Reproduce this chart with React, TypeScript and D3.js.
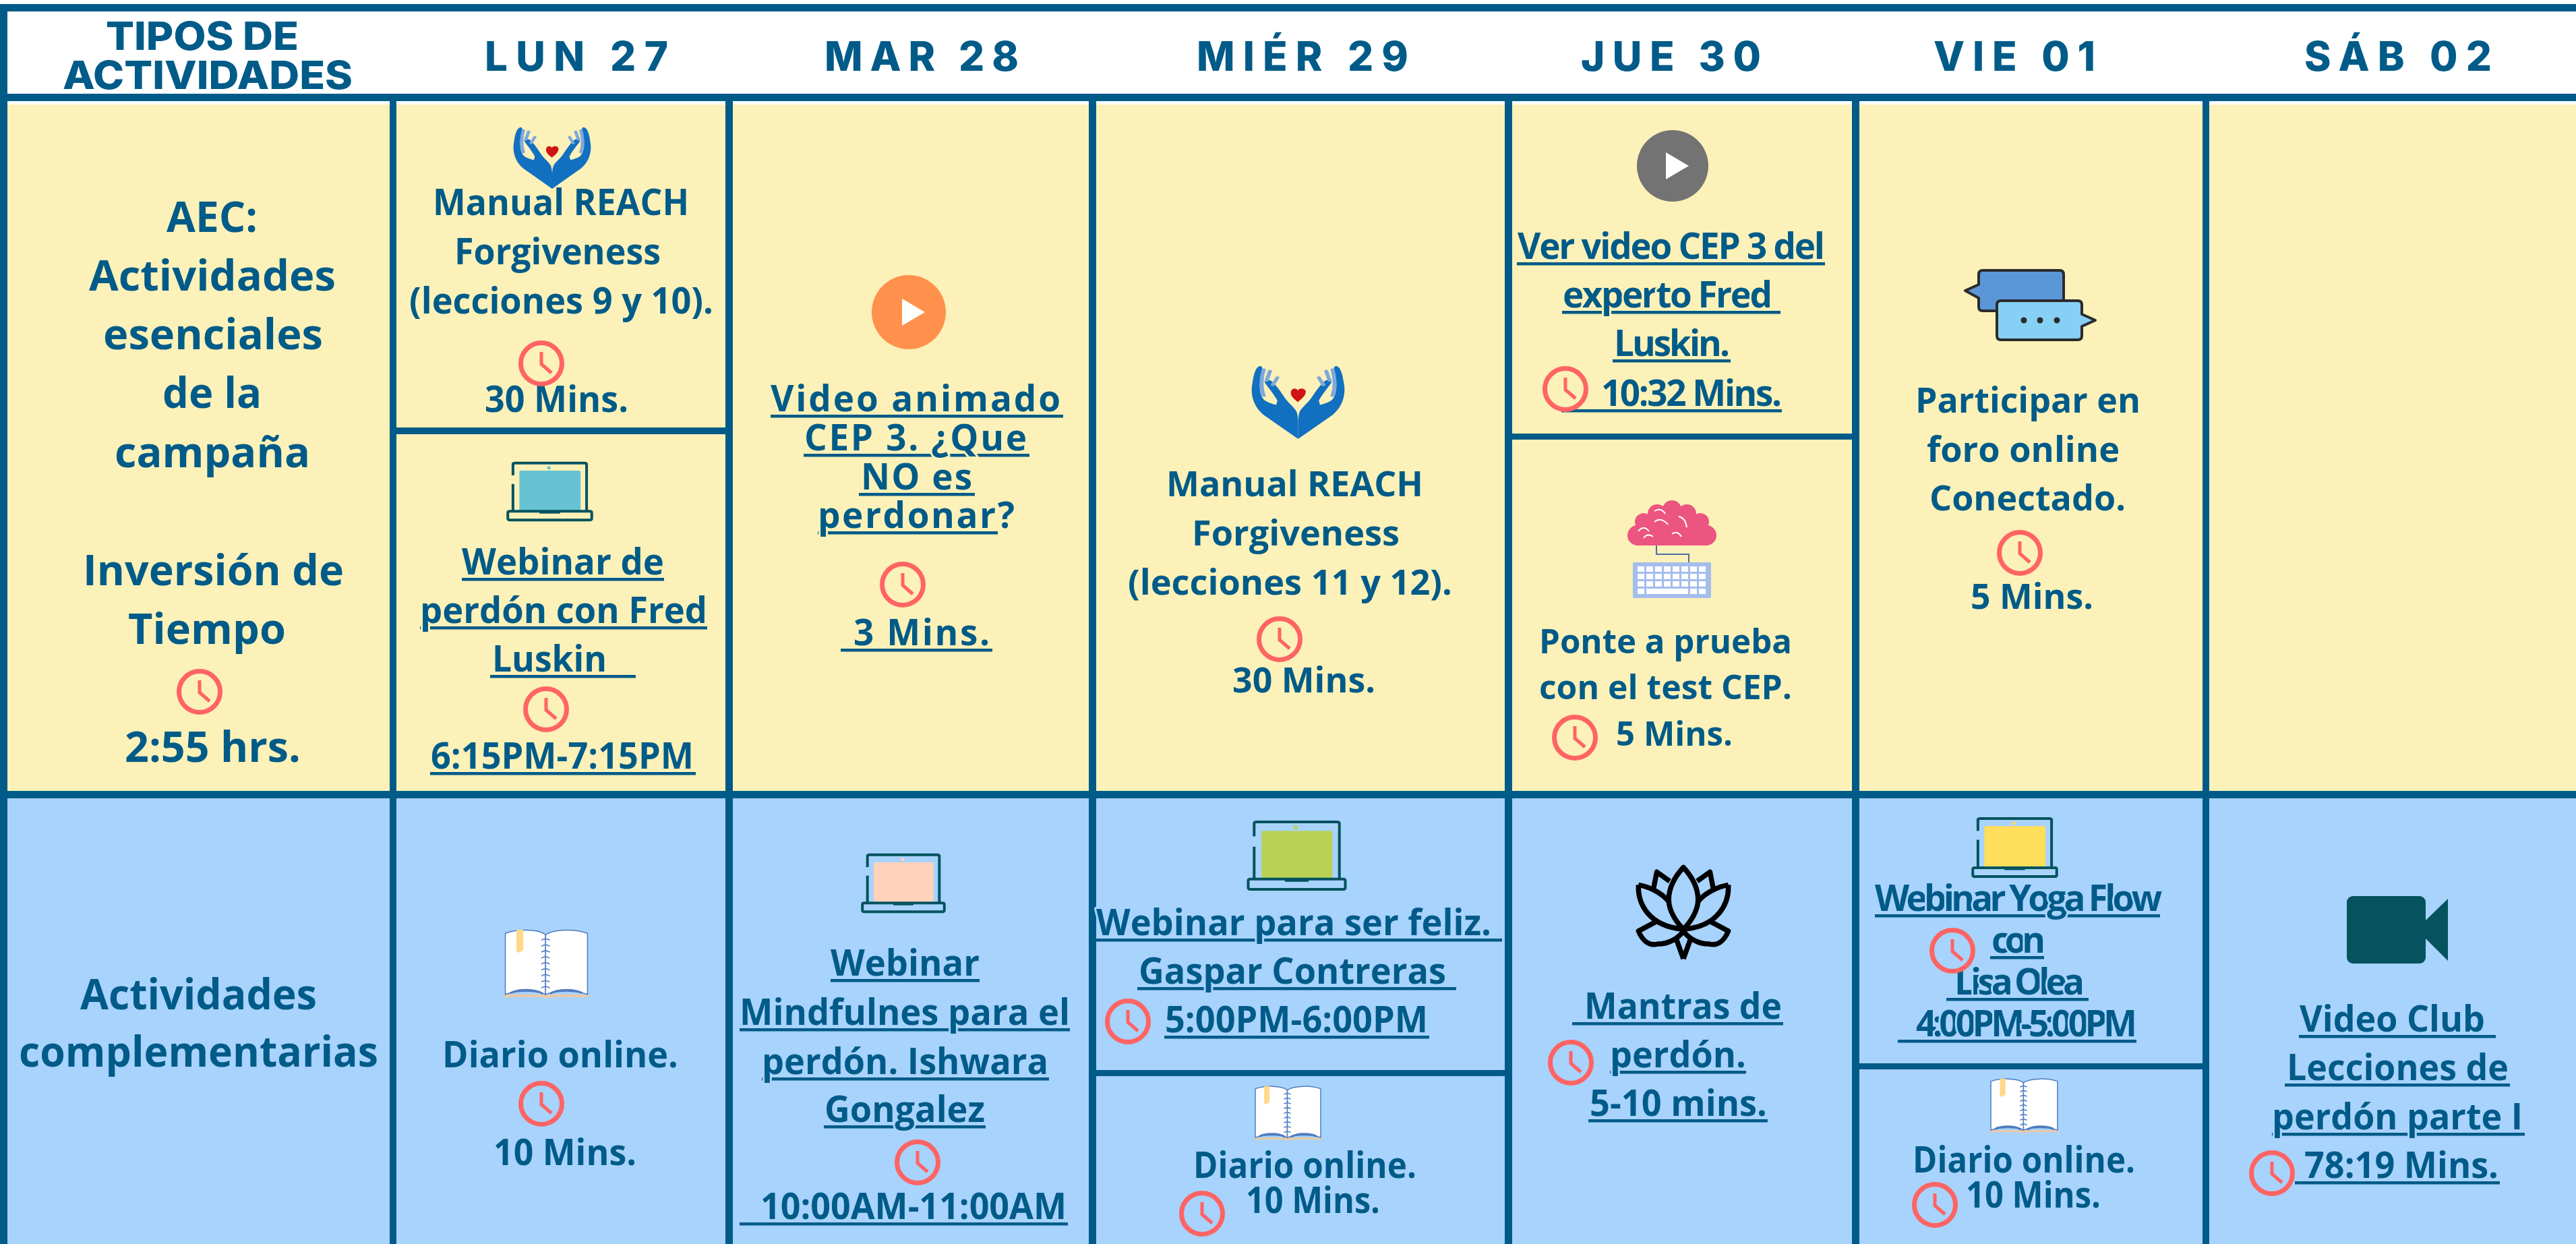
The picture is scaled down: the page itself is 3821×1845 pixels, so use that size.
import * as d3 from "d3"

// Text of the table
const dayLabels = ["LUN 27", "MAR 28", "MIÉR 29", "JUE 30", "VIE 01", "SÁB 02"]
const typeTitle = ["TIPOS DE", "ACTIVIDADES"]
const essentialLines = ["AEC:", "Actividades", "esenciales", "de la", "campaña", "Inversión de", "Tiempo", "2:55 hrs."]
const complementLines = ["Actividades", "complementarias"]
const lunManual = ["Manual REACH", "Forgiveness", "(lecciones 9 y 10).", "30 Mins."]
const lunWebinar = ["Webinar de", "perdón con Fred", "Luskin", "6:15PM-7:15PM"]
const marVideo = ["Video animado", "CEP 3. ¿Que", "NO es", "perdonar?", "3 Mins."]
const mierManual = ["Manual REACH", "Forgiveness", "(lecciones 11 y 12).", "30 Mins."]
const jueVideo = ["Ver video CEP 3 del", "experto Fred", "Luskin.", "10:32 Mins."]
const jueTest = ["Ponte a prueba", "con el test CEP.", "5 Mins."]
const vieForo = ["Participar en", "foro online", "Conectado.", "5 Mins."]
const lunDiario = ["Diario online.", "10 Mins."]
const marWebinar = ["Webinar", "Mindfulnes para el", "perdón. Ishwara", "Gongalez", "10:00AM-11:00AM"]
const mierWebinar = ["Webinar para ser feliz.", "Gaspar Contreras", "5:00PM-6:00PM"]
const mierDiario = ["Diario online.", "10 Mins."]
const jueMantras = ["Mantras de", "perdón.", "5-10 mins."]
const vieYoga = ["Webinar Yoga  Flow", "con", "Lisa Olea", "4:00PM-5:00PM"]
const vieDiario = ["Diario online.", "10 Mins."]
const sabVideo = ["Video Club", "Lecciones de", "perdón parte I", "78:19 Mins."]

const NAVY = "#005b88"
const YELLOW = "#fcf1b8"
const BLUE = "#a8d3fd"
const RED = "#ff6464"
const TEAL = "#04535f"
const FONT = "'Open Sans', sans-serif"
const HEAD_FONT = "Inter, 'Liberation Sans', sans-serif"

// grid
const colKeys = ["tipo", ...dayLabels]
const colStart = d3.scaleOrdinal<string, number>().domain(colKeys).range([0, 578, 1076, 1615, 2232, 2747, 3267])
const colEnd = d3.scaleOrdinal<string, number>().domain(colKeys).range([11, 588, 1087, 1626, 2243, 2758, 3277])
const rowKeys = ["top", "head", "aec", "comp"]
const rowStart = d3.scaleOrdinal<string, number>().domain(rowKeys).range([6, 139, 155, 1184])
const subLines: [string, number, number][] = [
  [dayLabels[0], 634, 644],
  [dayLabels[3], 643, 652],
  [dayLabels[2], 1587, 1596],
  [dayLabels[4], 1577, 1586],
]

// where each line goes: x start, x end, baseline, then underline start and end if it has one
type Box = [number, number, number, number?, number?]
const headBoxes: Box[] = [[719, 991, 105], [1223, 1511, 105], [1775, 2089, 105], [2345, 2612, 105], [2868, 3108, 105], [3418, 3696, 105]]
const titleBoxes: Box[] = [[157, 443, 74], [93, 523, 132]]
const essentialBoxes: Box[] = [[247, 382, 345], [132, 498, 432], [153, 479, 519], [241, 388, 606], [170, 460, 694], [123, 510, 869], [190, 424, 956], [185, 446, 1131]]
const complementBoxes: Box[] = [[119, 470, 1498], [28, 561, 1583]]
const lunManualBoxes: Box[] = [[642, 1022, 320], [674, 980, 393], [607, 1058, 466], [719, 932, 612]]
const lunWebinarBoxes: Box[] = [[685, 985, 853, 685, 985], [623, 1049, 925, 623, 1049], [730, 900, 997, 727, 943], [639, 1029, 1141, 638, 1032]]
const marVideoBoxes: Box[] = [[1143, 1573, 611, 1143, 1577], [1193, 1523, 669, 1192, 1527], [1277, 1442, 727, 1274, 1446], [1213, 1505, 784, 1213, 1480], [1266, 1468, 958, 1247, 1472]]
const mierManualBoxes: Box[] = [[1730, 2111, 737], [1768, 2076, 810], [1673, 2154, 883], [1828, 2040, 1028]]
const jueVideoBoxes: Box[] = [[2251, 2707, 385, 2250, 2707], [2318, 2629, 457, 2317, 2641], [2394, 2566, 529, 2392, 2567], [2375, 2643, 603, 2316, 2643]]
const jueTestBoxes: Box[] = [[2283, 2658, 970], [2283, 2658, 1038], [2397, 2570, 1107]]
const vieForoBoxes: Box[] = [[2841, 3175, 613], [2858, 3144, 686], [2862, 3153, 758], [2923, 3105, 904]]
const lunDiarioBoxes: Box[] = [[656, 1006, 1584], [732, 944, 1729]]
const marWebinarBoxes: Box[] = [[1232, 1453, 1448, 1232, 1453], [1097, 1587, 1521, 1097, 1587], [1130, 1555, 1594, 1130, 1556], [1223, 1461, 1665, 1222, 1462], [1128, 1582, 1809, 1097, 1584]]
const mierWebinarBoxes: Box[] = [[1626, 2212, 1388, 1626, 2228], [1689, 2145, 1460, 1687, 2160], [1728, 2118, 1532, 1727, 2120]]
const mierDiarioBoxes: Box[] = [[1770, 2101, 1748], [1848, 2047, 1800]]
const jueMantrasBoxes: Box[] = [[2350, 2643, 1512, 2332, 2645], [2388, 2590, 1584, 2388, 2590], [2358, 2621, 1656, 2356, 2622]]
const vieYogaBoxes: Box[] = [[2781, 3207, 1352, 2781, 3204], [2954, 3034, 1414, 2952, 3032], [2899, 3092, 1476, 2887, 3098], [2842, 3170, 1538, 2815, 3169]]
const vieDiarioBoxes: Box[] = [[2837, 3167, 1740], [2916, 3116, 1792]]
const sabVideoBoxes: Box[] = [[3411, 3686, 1531, 3410, 3702], [3392, 3721, 1603, 3389, 3723], [3370, 3742, 1676, 3370, 3745], [3418, 3706, 1748, 3404, 3708]]

const clockCenters = [
  [296, 1026], [803, 539], [810, 1052], [1339, 867], [1898, 948], [2322, 577], [2336, 1094], [2996, 820],
  [803, 1637], [1361, 1724], [1673, 1515], [1783, 1800], [2330, 1576], [2896, 1410], [2870, 1787], [3370, 1740],
]

function TextLines({ lines, boxes, size, bg, spacing }: { lines: string[]; boxes: Box[]; size: number; bg: string; spacing?: boolean }) {
  return (
    <g fontFamily={FONT} fontWeight={740} fontSize={size} fill={NAVY}>
      {lines.map((t, i) => {
        const [x0, x1, y, u0, u1] = boxes[i]
        const underlined = u0 !== undefined
        return (
          <g key={i}>
            {underlined && <rect x={u0} y={y + 4} width={u1! - u0!} height={4.5} />}
            {/* the background coloured outline opens the underline around descenders */}
            <text
              x={x0}
              y={y - 1}
              textLength={x1 - x0}
              lengthAdjust={spacing ? "spacing" : "spacingAndGlyphs"}
              stroke={underlined ? bg : "none"}
              strokeWidth={underlined ? 6 : 0}
              strokeLinejoin="round"
              paintOrder="stroke"
            >
              {t}
            </text>
          </g>
        )
      })}
    </g>
  )
}

function Clock({ cx, cy }: { cx: number; cy: number }) {
  return (
    <g transform={`translate(${cx},${cy})`} fill="none" stroke={RED}>
      <circle r={30.5} strokeWidth={7} />
      <path d="M0,-17V1L15,14" strokeWidth={5} />
    </g>
  )
}

function Icon({ box, vw, vh, children }: { box: number[]; vw: number; vh: number; children: any }) {
  const [x0, x1, y0, y1] = box
  return <g transform={`translate(${x0},${y0}) scale(${(x1 - x0) / vw},${(y1 - y0) / vh})`}>{children}</g>
}

function Hands({ box }: { box: number[] }) {
  const half = (
    <>
      <path d="M82.5,205L22,138C4,116 -2,80 2,50C4,25 8,4 15,2C21,1 20,12 18,24C13,52 14,84 24,98C30,104 38,108 44,110L46,98C40,80 30,62 24,48C22,42 28,38 34,42C42,50 52,74 58,88C64,104 76,116 80,130C82,140 82.5,150 82.5,160Z" fill="#1170c0" />
      <g stroke="#7fa9dc" strokeWidth={7} strokeLinecap="round" fill="none">
        <path d="M22,12C18,30 16,60 22,84" />
        <path d="M33,16L27,42" />
        <path d="M46,34L38,54" />
      </g>
    </>
  )
  return (
    <Icon box={box} vw={165} vh={205}>
      {half}
      <g transform="translate(165,0) scale(-1,1)">{half}</g>
      <path d="M82,102C74,92 68,84 70,72C72,62 80,62 82,70C84,62 94,62 96,72C96,84 90,92 82,102Z" fill="#cf1414" />
    </Icon>
  )
}

function Laptop({ box, fill }: { box: number[]; fill: string }) {
  const s = { vectorEffect: "non-scaling-stroke" as const }
  return (
    <Icon box={box} vw={100} vh={100}>
      <rect x={14.5} y={14} width={71.5} height={70} rx={2} fill={fill} />
      <path d="M7,22V3Q7,1 10,1H90Q93,1 93,3V84M7,37V84" fill="none" stroke={TEAL} strokeWidth={4} {...s} />
      <rect x={1} y={84} width={98} height={15} rx={2} fill="none" stroke={TEAL} strokeWidth={4} {...s} />
      <rect x={38} y={84} width={24} height={4} fill={TEAL} />
      <ellipse cx={49} cy={9} rx={2} ry={3} fill={fill} />
    </Icon>
  )
}

function Book({ box }: { box: number[] }) {
  const s = { vectorEffect: "non-scaling-stroke" as const }
  return (
    <Icon box={box} vw={100} vh={100}>
      <path d="M0,94H100V98H56L50,100L44,98H0Z" fill="#e6c9a8" />
      <path d="M2,6C14,0 40,-1 49,8V94C40,88 14,88 2,94Z" fill="#fff" stroke="#4f7cc0" strokeWidth={1.5} {...s} />
      <path d="M98,6C86,0 60,-1 49,8V94C60,88 86,88 98,94Z" fill="#fff" stroke="#4f7cc0" strokeWidth={1.5} {...s} />
      <path d="M15,1L23,1V30L18,34L15,32Z" fill="#ffd88a" />
      <path d="M8,92C18,86 36,86 46,93M54,93C64,86 82,86 92,92" fill="none" stroke="#4f7cc0" strokeWidth={3} {...s} />
      {d3.range(9).map((i) => (
        <path key={i} d={`M44,${16 + i * 8.6}Q49,${12 + i * 8.6} 54,${16 + i * 8.6}`} fill="none" stroke="#4f7cc0" strokeWidth={1.5} {...s} />
      ))}
    </Icon>
  )
}

function Lotus({ box }: { box: number[] }) {
  const half = (
    <>
      <path d="M1,20C12,22 26,28 34,38M1,20C0,40 12,65 50,68" />
      <path d="M35,16L21,6L17,26" />
      <path d="M20,60L1,70C6,82 14,86 22,84C34,84 44,78 50,70" />
      <path d="M42,78L50,100" />
    </>
  )
  return (
    <Icon box={box} vw={100} vh={100}>
      <g fill="none" stroke="#000" strokeWidth={5.5} strokeLinejoin="round">
        <path d="M50,1C38,14 34,26 34,36C34,48 42,60 50,68C58,60 66,48 66,36C66,26 62,14 50,1Z" />
        {half}
        <g transform="translate(100,0) scale(-1,1)">{half}</g>
      </g>
    </Icon>
  )
}

const brainLobes = [[15, 52, 15], [117, 52, 15], [24, 32, 13], [44, 20, 14], [66, 14, 14], [88, 20, 14], [108, 32, 13], [66, 42, 25], [40, 42, 20], [92, 42, 20]]
const brainFolds = ["M16,46Q24,36 32,46", "M40,16Q50,10 56,20", "M40,32Q50,24 60,36", "M76,24Q86,26 88,40", "M66,50Q74,44 80,54", "M24,56Q30,48 38,54"]

function Brain({ box }: { box: number[] }) {
  return (
    <Icon box={box} vw={132} vh={145}>
      {brainLobes.map(([x, y, r], i) => <circle key={i} cx={x} cy={y} r={r} fill="#ec5580" />)}
      <rect x={12} y={50} width={108} height={17} fill="#ec5580" />
      {brainFolds.map((d, i) => <path key={i} d={d} fill="none" stroke="#fff" strokeWidth={2} />)}
      <path d="M43,67V80H91V92" fill="none" stroke="#4a6fa5" strokeWidth={2} />
      <rect x={8} y={92} width={116} height={53} rx={2} fill="#a4bdec" />
      {d3.range(3).map((r) => d3.range(8).map((c) => (
        <rect key={`${r}-${c}`} x={15 + c * 13} y={98 + r * 11} width={10} height={8} fill="#fff" />
      )))}
      <rect x={15} y={131} width={10} height={8} fill="#fff" />
      <rect x={28} y={131} width={62} height={8} fill="#fff" />
      <rect x={93} y={131} width={10} height={8} fill="#fff" />
      <rect x={106} y={131} width={10} height={8} fill="#fff" />
    </Icon>
  )
}

function Chat({ box }: { box: number[] }) {
  return (
    <Icon box={box} vw={195} vh={105}>
      <g stroke="#2b2b2b" strokeWidth={4} strokeLinejoin="round">
        <path d="M27,1H141Q147,1 147,7V55Q147,61 141,61H27Q21,61 21,55V42L1,31L21,22V7Q21,1 27,1Z" fill="#5b97d8" />
        <path d="M54,46H168Q174,46 174,52V66L194,75L174,84V98Q174,104 168,104H54Q48,104 48,98V52Q48,46 54,46Z" fill="#87d0f5" />
      </g>
      {[88, 112, 137].map((x) => <circle key={x} cx={x} cy={75} r={4.5} fill="#2b2b2b" />)}
    </Icon>
  )
}

function Camera({ box }: { box: number[] }) {
  return (
    <Icon box={box} vw={150} vh={100}>
      <rect x={0} y={0} width={117} height={100} rx={9} fill={TEAL} />
      <path d="M116,37L150,4V96L116,62Z" fill={TEAL} />
    </Icon>
  )
}

function Play({ cx, cy, r, fill }: { cx: number; cy: number; r: number; fill: string }) {
  return (
    <g transform={`translate(${cx},${cy})`}>
      <circle r={r} fill={fill} />
      <path d="M-10,-20L24,0L-10,20Z" fill="#fff" />
    </g>
  )
}

export default function App() {
  const W = 3821
  const H = 1845
  return (
    <svg width={W} height={H} style={{ position: "absolute", left: 0, top: 0, display: "block", background: "#fff" }}>
      {/* fondos */}
      <rect x={0} y={rowStart("aec")} width={W} height={rowStart("comp") - rowStart("aec")} fill={YELLOW} />
      <rect x={0} y={rowStart("comp")} width={W} height={H - rowStart("comp")} fill={BLUE} />

      {/* lineas */}
      <g fill={NAVY}>
        <rect x={0} y={rowStart("top")} width={W} height={11} />
        <rect x={0} y={rowStart("head")} width={W} height={11} />
        <rect x={0} y={1173} width={W} height={11} />
        <rect x={0} y={rowStart("top")} width={colEnd("tipo")} height={H} />
        {colKeys.slice(1).map((k) => (
          <rect key={k} x={colStart(k)} y={150} width={colEnd(k) - colStart(k)} height={H - 150} />
        ))}
        {subLines.map(([k, y0, y1]) => {
          const next = colKeys[colKeys.indexOf(k) + 1]
          return <rect key={k} x={colEnd(k)} y={y0} width={colStart(next) - colEnd(k)} height={y1 - y0} />
        })}
      </g>

      {/* encabezado */}
      <g fontFamily={HEAD_FONT} fontWeight={800} fill={NAVY}>
        {typeTitle.map((t, i) => (
          <text key={t} x={titleBoxes[i][0]} y={titleBoxes[i][2]} fontSize={58} textLength={titleBoxes[i][1] - titleBoxes[i][0]} lengthAdjust="spacingAndGlyphs">{t}</text>
        ))}
        {dayLabels.map((t, i) => (
          <text key={t} x={headBoxes[i][0]} y={headBoxes[i][2]} fontSize={60} textLength={headBoxes[i][1] - headBoxes[i][0]} lengthAdjust="spacing">{t}</text>
        ))}
      </g>

      <TextLines lines={essentialLines} boxes={essentialBoxes} size={63} bg={YELLOW} />
      <TextLines lines={lunManual} boxes={lunManualBoxes} size={53} bg={YELLOW} />
      <TextLines lines={lunWebinar} boxes={lunWebinarBoxes} size={53} bg={YELLOW} />
      <TextLines lines={marVideo} boxes={marVideoBoxes} size={53} bg={YELLOW} spacing />
      <TextLines lines={mierManual} boxes={mierManualBoxes} size={52} bg={YELLOW} />
      <TextLines lines={jueVideo} boxes={jueVideoBoxes} size={53} bg={YELLOW} spacing />
      <TextLines lines={jueTest} boxes={jueTestBoxes} size={51} bg={YELLOW} />
      <TextLines lines={vieForo} boxes={vieForoBoxes} size={52} bg={YELLOW} />

      <TextLines lines={complementLines} boxes={complementBoxes} size={63} bg={BLUE} />
      <TextLines lines={lunDiario} boxes={lunDiarioBoxes} size={53} bg={BLUE} />
      <TextLines lines={marWebinar} boxes={marWebinarBoxes} size={53} bg={BLUE} />
      <TextLines lines={mierWebinar} boxes={mierWebinarBoxes} size={53} bg={BLUE} />
      <TextLines lines={mierDiario} boxes={mierDiarioBoxes} size={53} bg={BLUE} />
      <TextLines lines={jueMantras} boxes={jueMantrasBoxes} size={53} bg={BLUE} />
      <TextLines lines={vieYoga} boxes={vieYogaBoxes} size={53} bg={BLUE} spacing />
      <TextLines lines={vieDiario} boxes={vieDiarioBoxes} size={53} bg={BLUE} />
      <TextLines lines={sabVideo} boxes={sabVideoBoxes} size={53} bg={BLUE} />

      {/* iconos */}
      <Hands box={[761, 877, 188, 280]} />
      <Hands box={[1856, 1995, 542, 651]} />
      <Laptop box={[752, 879, 686, 772]} fill="#67c2d3" />
      <Laptop box={[1278, 1402, 1267, 1353]} fill="#ffd3bb" />
      <Laptop box={[1850, 1997, 1218, 1320]} fill="#b9d256" />
      <Laptop box={[2925, 3052, 1213, 1301]} fill="#ffde59" />
      <Book box={[747, 874, 1378, 1481]} />
      <Book box={[1860, 1961, 1610, 1692]} />
      <Book box={[2951, 3054, 1599, 1681]} />
      <Lotus box={[2429, 2565, 1285, 1422]} />
      <Brain box={[2414, 2546, 742, 887]} />
      <Chat box={[2914, 3109, 400, 505]} />
      <Camera box={[3481, 3631, 1329, 1429]} />
      <Play cx={1348} cy={463} r={55} fill="#ff914d" />
      <Play cx={2481} cy={246} r={53} fill="#737373" />

      {clockCenters.map(([cx, cy]) => <Clock key={`${cx}-${cy}`} cx={cx} cy={cy} />)}
    </svg>
  )
}
